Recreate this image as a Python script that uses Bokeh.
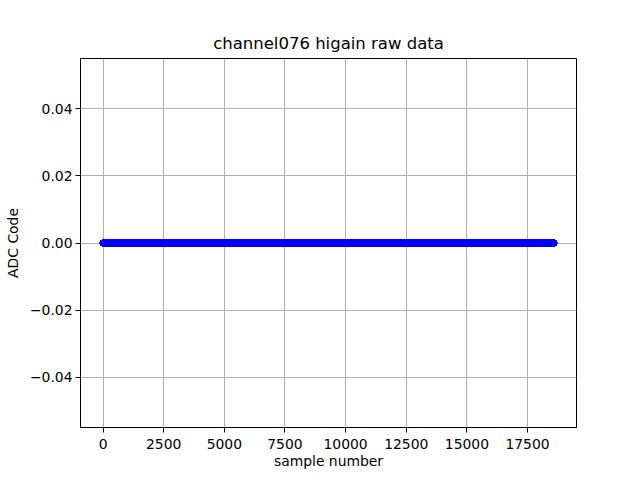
from bokeh.plotting import figure
from bokeh.models import Range1d, FixedTicker, CustomJSTickFormatter
from bokeh.embed import file_html
from bokeh.resources import INLINE

# ---- data (every sample of the channel reads 0) ----
title_text = "channel076 higain raw data"
x_label = "sample number"
y_label = "ADC Code"
n_samples = 18590
sample_number = list(range(n_samples))
adc_code = [0] * n_samples
x_ticks = [0, 2500, 5000, 7500, 10000, 12500, 15000, 17500]
y_ticks = [-0.04, -0.02, 0.0, 0.02, 0.04]
y_limits = (-0.055, 0.055)

FONT = "DejaVu Sans"

xmin, xmax = min(sample_number), max(sample_number)
pad = 0.05 * (xmax - xmin)

p = figure(
    output_backend="svg",
    toolbar_location=None,
    frame_width=496,
    frame_height=369,
    min_border_left=80,
    min_border_right=48,
    min_border_top=58,
    min_border_bottom=37,
    x_range=Range1d(xmin - pad, xmax + pad),
    y_range=Range1d(*y_limits),
    title=title_text,
)
p.background_fill_color = "white"
p.border_fill_color = "white"
p.outline_line_color = "black"
p.outline_line_width = 1
p.outline_line_alpha = 1

p.title.text_font = FONT
p.title.text_font_size = "16.5px"
p.title.text_font_style = "normal"
p.title.align = "center"
p.title.text_color = "black"
p.title.standoff = 11

for ax in (p.xaxis[0], p.yaxis[0]):
    ax.axis_line_color = "black"
    ax.major_tick_line_color = "black"
    ax.major_tick_out = 5
    ax.major_tick_in = 0
    ax.minor_tick_line_color = None
    ax.major_label_text_font = FONT
    ax.major_label_text_font_size = "13.9px"
    ax.major_label_text_color = "black"
    ax.axis_label_text_font = FONT
    ax.axis_label_text_font_size = "13.9px"
    ax.axis_label_text_font_style = "normal"
    ax.axis_label_text_color = "black"

p.xaxis.major_label_standoff = 6
p.xaxis.axis_label_standoff = 1
p.yaxis.major_label_standoff = 3
p.yaxis.axis_label_standoff = 6

p.xaxis.ticker = FixedTicker(ticks=x_ticks)
p.yaxis.ticker = FixedTicker(ticks=y_ticks)
p.xaxis.axis_label = x_label
p.yaxis.axis_label = y_label
p.xaxis.formatter = CustomJSTickFormatter(code="return String(Math.round(tick)).replace('-', '\u2212');")
p.yaxis.formatter = CustomJSTickFormatter(code="var s = Math.abs(tick) < 1e-12 ? '0.00' : tick.toFixed(2); return s.replace('-', '\u2212');")

p.xgrid.ticker = FixedTicker(ticks=x_ticks)
p.ygrid.ticker = FixedTicker(ticks=y_ticks)
for g in (p.xgrid[0], p.ygrid[0]):
    g.grid_line_color = "#b0b0b0"
    g.grid_line_width = 1
    g.grid_line_alpha = 1

p.line(sample_number, adc_code, line_color="blue", line_width=1.5)
p.scatter(sample_number, adc_code, marker="circle", size=6, fill_color="blue", line_color="blue", line_width=1)

open("out.html", "w").write(file_html(p, INLINE))
